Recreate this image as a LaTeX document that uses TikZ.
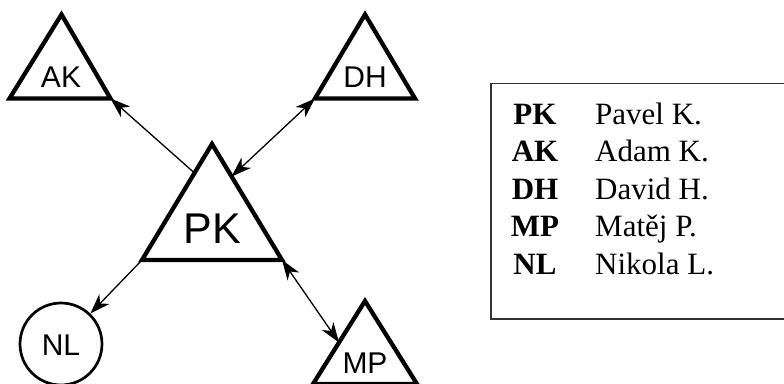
\documentclass[tikz,border=0pt]{standalone}
\usepackage{fontspec}
\setmainfont{Liberation Serif}
\newfontfamily\labelfont{Liberation Sans}
\usetikzlibrary{arrows.meta,calc}

\tikzset{
    tri/.style={line width=4.3pt, line join=miter},
    link/.style={line width=1.3pt, -{Stealth[length=20pt,width=14pt,inset=6pt]}},
    twolink/.style={line width=1.3pt, {Stealth[length=20pt,width=14pt,inset=6pt]}-{Stealth[length=20pt,width=14pt,inset=6pt]}},
    lbl/.style={inner sep=0pt, anchor=base, font=\labelfont\fontsize{30}{36}\selectfont},
    abbr/.style={inner sep=0pt, anchor=base, font=\bfseries\fontsize{31}{37}\selectfont},
    fullname/.style={inner sep=0pt, anchor=base west, font=\fontsize{31}{37}\selectfont}
}

\begin{document}
\begin{tikzpicture}[x=1pt, y=-1pt]
    \clip (0,0) rectangle (784,383);

    % ত্রিভুজের কোণ
    \coordinate (AK-t) at (61.5,14.5);
    \coordinate (AK-l) at (9.5,98.5);
    \coordinate (AK-r) at (110.5,98.5);

    \coordinate (DH-t) at (365,14.5);
    \coordinate (DH-l) at (315,98.5);
    \coordinate (DH-r) at (415,98.5);

    \coordinate (PK-t) at (212,144);
    \coordinate (PK-l) at (142,260);
    \coordinate (PK-r) at (282,260);

    \coordinate (MP-t) at (365,301);
    \coordinate (MP-l) at (313,384);
    \coordinate (MP-r) at (417,384);

    \draw[tri] (AK-t) -- (AK-l) -- (AK-r) -- cycle;
    \draw[tri] (DH-t) -- (DH-l) -- (DH-r) -- cycle;
    \draw[tri] (PK-t) -- (PK-l) -- (PK-r) -- cycle;
    \draw[tri] (MP-t) -- (MP-l) -- (MP-r) -- cycle;

    % বৃত্ত
    \node[circle, draw, line width=2.7pt, minimum size=82pt, inner sep=0pt] (NL) at (61,344) {};

    % লেবেলসমূহ
    \node[lbl] (AK) at (61,87) {AK};
    \node[lbl] (DH) at (365,87) {DH};
    \node[lbl, font=\labelfont\fontsize{43}{50}\selectfont] (PK) at (212,243) {PK};
    \node[lbl] (NL-text) at (61,355) {NL};
    \node[lbl] (MP) at (365,373) {MP};

    % সংযোগ
    \coordinate (PK-a) at ($(PK-t)!0.25!(PK-l)$);
    \coordinate (PK-b) at ($(PK-t)!0.28!(PK-r)$);
    \coordinate (MP-a) at ($(MP-t)!0.5!(MP-l)$);

    \draw[link] (PK-a) -- (AK-r);
    \draw[twolink] (DH-l) -- (PK-b);
    \draw[link] (PK-l) -- (NL);
    \draw[twolink] (PK-r) -- (MP-a);

    % তালিকা
    \draw[line width=1.5pt, black!80] (491,83.5) rectangle (800,319);

    \node[abbr] (ab1) at (535,124) {PK};
    \node[abbr] (ab2) at (535,161.5) {AK};
    \node[abbr] (ab3) at (535,199) {DH};
    \node[abbr] (ab4) at (535,236.5) {MP};
    \node[abbr] (ab5) at (535,274) {NL};

    \node[fullname] (nm1) at (595,124) {Pavel K.};
    \node[fullname] (nm2) at (595,161.5) {Adam K.};
    \node[fullname] (nm3) at (595,199) {David H.};
    \node[fullname] (nm4) at (595,236.5) {Matěj P.};
    \node[fullname] (nm5) at (595,274) {Nikola L.};

\end{tikzpicture}
\end{document}
